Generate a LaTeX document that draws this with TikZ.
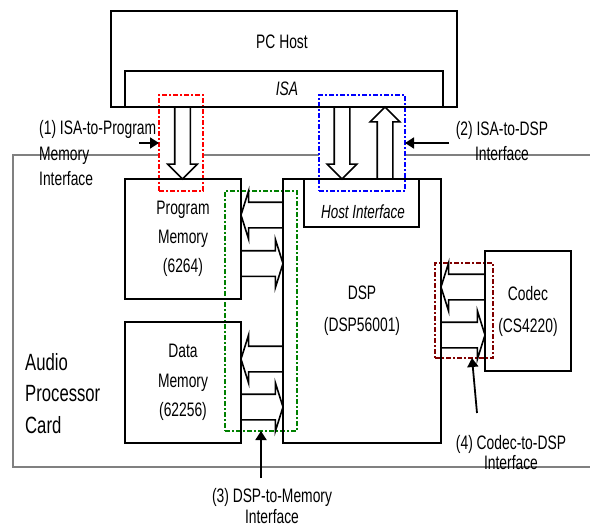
\documentclass[tikz,border=0pt]{standalone}
\usepackage{fontspec}
\setmainfont[FakeStretch=0.71]{Liberation Sans}
\usetikzlibrary{arrows.meta, shapes.arrows, calc}

\begin{document}
\begin{tikzpicture}[x=1pt, y=-1pt,
  box/.style 2 args={draw, line width=1.8pt, minimum width=#1, minimum height=#2,
               inner sep=0pt, outer sep=0pt},
  ifbox/.style={draw=#1, line width=1.6pt, fill=white, inner sep=0pt, outer sep=0pt,
               dash pattern=on 5pt off 2pt on 2pt off 2pt},
  card/.style={draw=gray, line width=1.8pt},
  txt/.style={font=\fontsize{19.5}{#1}\selectfont, align=center, inner sep=0pt},
  vbus/.style={single arrow, draw, line width=1.6pt, inner xsep=0pt, inner ysep=7pt,
               minimum width=0pt, minimum height=72, single arrow head extend=7pt,
               outer sep=0pt, anchor=tail},
  hbus/.style={single arrow, draw, line width=1.6pt, inner xsep=0pt, inner ysep=12pt,
               minimum width=0pt, minimum height=#1, single arrow head extend=11.5pt,
               single arrow tip angle=145, outer sep=0pt, anchor=tail},
  ptr/.style={line width=1.8pt, -{Triangle[length=9pt, width=11pt]}},
]
  \useasboundingbox (0,0) rectangle (590,527);

  % card outline, open to the right
  \draw[card] (590,155) -- (13,155) -- (13,467) -- (590,467);

  % interface regions
  \node[ifbox=red, minimum width=44, minimum height=96] (ifone) at (181,143) {};
  \node[ifbox=blue, minimum width=86, minimum height=96] (iftwo) at (362,143) {};
  \node[ifbox={green!50!black}, minimum width=72, minimum height=240] (ifthree) at (261,311) {};
  \node[ifbox={red!50!black}, minimum width=58, minimum height=95] (iffour) at (464,310.5) {};

  % blocks
  \node[box={346}{96}] (host) at (284,59) {};
  \node[txt=20] (hostname) at (282,42) {PC Host};
  \node[box={318}{36}, font=\fontsize{19.5}{20}\selectfont\itshape] (isa) at (284,89) {\hspace*{6pt}ISA};
  \node[box={116}{120}, txt=29] (pmem) at (183,239) {Program\\Memory\\(6264)};
  \node[box={116}{121}, txt=29.5] (dmem) at (183,382.5) {Data\\Memory\\(62256)};
  \node[box={158}{264}, txt=32] (dsp) at (362,311) {DSP\\(DSP56001)};
  \node[box={115}{48}] (hostif) at (361.5,203) {};
  \node[txt=20, font=\fontsize{19}{20}\selectfont\itshape] (hostifname) at (363,212) {Host Interface};
  \node[box={86}{120}, txt=32] (codec) at (528,311) {Codec\\(CS4220)};

  % buses
  \node[vbus, rotate=-90] (busone) at (182.5,107) {};
  \node[vbus, rotate=-90] (busdown) at (342,107) {};
  \node[vbus, rotate=90] (busup) at (385,179) {};
  \node[hbus=42, rotate=180] (pmemin) at (283,215) {};
  \node[hbus=42] (pmemout) at (241,263.5) {};
  \node[hbus=42, rotate=180] (dmemin) at (283,359) {};
  \node[hbus=42] (dmemout) at (241,407) {};
  \node[hbus=44, rotate=180] (codecin) at (485,287) {};
  \node[hbus=44] (codecout) at (441,335) {};

  % labels
  \node[txt=25.5, align=left, anchor=west] (lone) at (39,153.5) {(1) ISA-to-Program\\Memory\\Interface};
  \node[txt=25] (ltwo) at (502,141.5) {(2) ISA-to-DSP\\Interface};
  \node[txt=21.5] (lthree) at (272,506) {(3) DSP-to-Memory\\Interface};
  \node[txt=20] (lfour) at (511,453) {(4) Codec-to-DSP\\Interface};
  \node[align=left, anchor=west, inner sep=0pt, font=\fontsize{23.5}{31.5}\selectfont] (cardname) at (25,393.5) {Audio\\Processor\\Card};

  \coordinate (pone) at (139,143);
  \coordinate (ptwo) at (449,143);
  \coordinate (pthree) at (261,478);
  \coordinate (pfour) at (477,413);
  \draw[ptr] (pone) -- (pone -| ifone.west);
  \draw[ptr] (ptwo) -- (ptwo -| iftwo.east);
  \draw[ptr] (pthree) -- (pthree |- ifthree.south);
  \draw[ptr] (pfour) -- ([xshift=8pt]iffour.south);
\end{tikzpicture}
\end{document}
